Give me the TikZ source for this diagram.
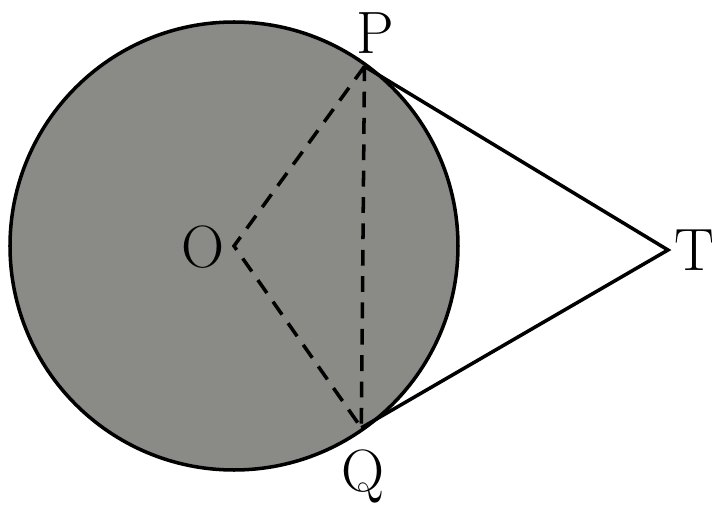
\documentclass[tikz,border=0pt]{standalone}
\usepackage{amsmath,amssymb}
\usetikzlibrary{arrows.meta,positioning,calc}
\definecolor{discgray}{RGB}{138,138,134}

\begin{document}
\begin{tikzpicture}[scale=1.0, every node/.style={font=\fontsize{17}{20}\selectfont, inner sep=0pt}]
    \useasboundingbox (0,0) rectangle (7.12,-5.08);
    \coordinate (O) at (2.34,-2.46);
    \draw[line width=1pt, fill=discgray] (O) circle (2.24);
    \coordinate (P) at ($(O)+(54:2.22)$);
    \coordinate (Q) at ($(O)+(-55:2.22)$);
    \coordinate (T) at (6.68,-2.50);
    \draw[line width=1pt] (P) -- (T) -- (Q);
    \draw[line width=1pt, dash pattern=on 4.5pt off 3pt] (P) -- (O) -- (Q) -- (P);

    \node (labO) at (2.03,-2.47) {O};
    \node (labP) at (3.75,-0.33) {P};
    \node (labQ) at (3.63,-4.76) {Q};
    \node (labT) at (6.94,-2.50) {T};
  \end{tikzpicture}
\end{document}
